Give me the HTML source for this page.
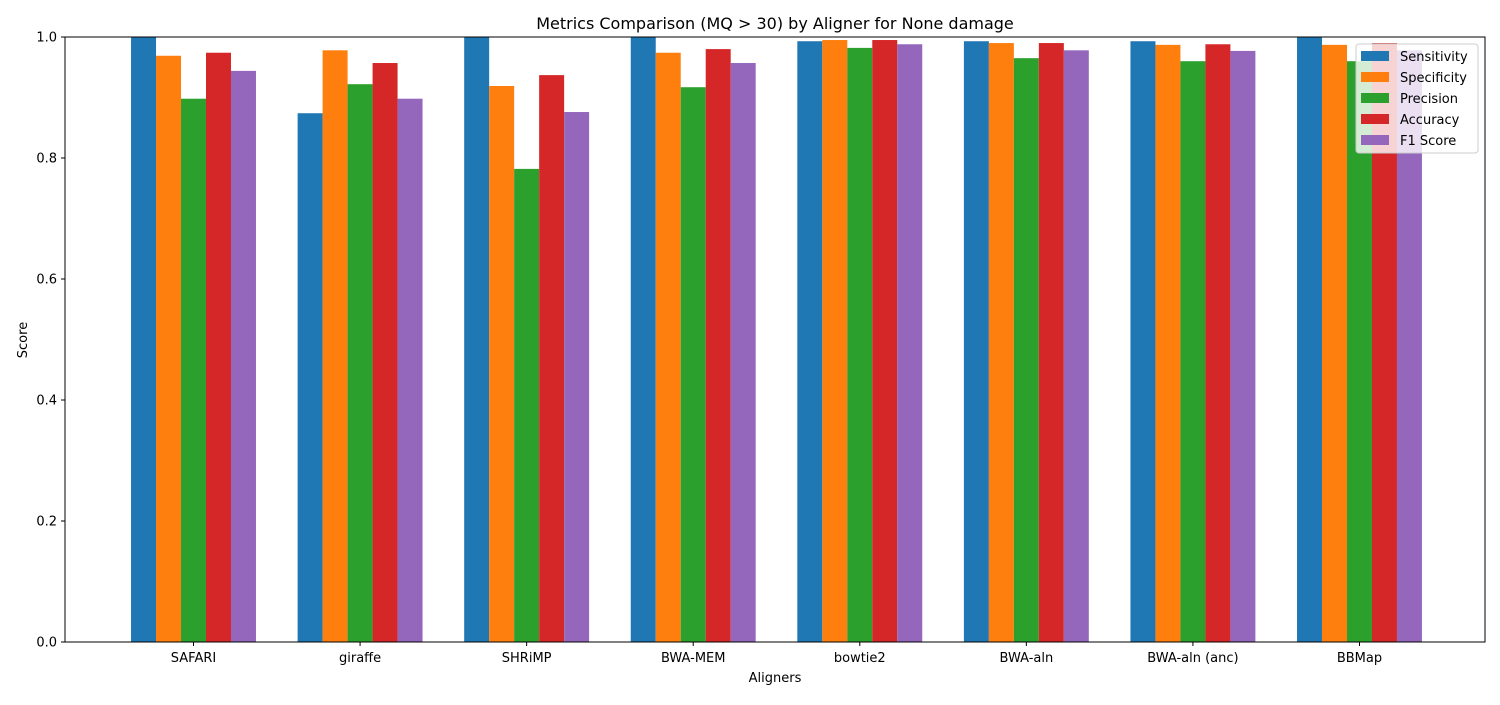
<!DOCTYPE html>
<html><head><meta charset="utf-8"><style>
body{margin:0;background:#fff;}
svg text{font-family:"DejaVu Sans","Liberation Sans",sans-serif;fill:#000;}
</style></head><body>
<svg id="chart" width="1500" height="700" xmlns="http://www.w3.org/2000/svg">
<rect width="1500" height="700" fill="#fff"/>
<g id="bars"></g>
<g id="axes"></g>
<text x="775" y="29" text-anchor="middle" font-size="16">Metrics Comparison (MQ &gt; 30) by Aligner for None damage</text>
<text x="775" y="682" text-anchor="middle" font-size="13">Aligners</text>
<text x="27" y="340" text-anchor="middle" font-size="13" transform="rotate(-90 27 340)">Score</text>
<g id="legend"></g>
</svg>
<script>
const categories=["SAFARI","giraffe","SHRiMP","BWA-MEM","bowtie2","BWA-aln","BWA-aln (anc)","BBMap"];
const seriesNames=["Sensitivity","Specificity","Precision","Accuracy","F1 Score"];
const sensitivity=[1.0,0.874,1.0,1.0,0.993,0.993,0.993,1.0];
const specificity=[0.969,0.978,0.919,0.974,0.995,0.990,0.987,0.987];
const precision=[0.898,0.922,0.782,0.917,0.982,0.965,0.960,0.960];
const accuracy=[0.974,0.957,0.937,0.980,0.995,0.990,0.988,0.990];
const f1score=[0.944,0.898,0.876,0.957,0.988,0.978,0.977,0.978];
const yTicks=[0,0.2,0.4,0.6,0.8,1.0];
const series=[sensitivity,specificity,precision,accuracy,f1score];
const colors=["#1f77b4","#ff7f0e","#2ca02c","#d62728","#9467bd"];
const NS="http://www.w3.org/2000/svg";
const L=65,R=1485,T=37,B=642;
const w=0.15,xmin=-0.7625,xmax=categories.length-1+0.7625;
const xs=v=>L+1.5+(v-xmin)/(xmax-xmin)*(R-L);
const ys=v=>B-v*(B-T);
function mk(tag,attrs,parent){const e=document.createElementNS(NS,tag);for(const k in attrs)e.setAttribute(k,attrs[k]);parent.appendChild(e);return e;}
const bars=document.getElementById('bars');
series.forEach((s,si)=>{s.forEach((v,ci)=>{
 const c=ci+(si-2)*w;
 const r=mk('rect',{x:xs(c-w/2),y:ys(Math.min(v,1)),width:xs(c+w/2)-xs(c-w/2),height:ys(0)-ys(Math.min(v,1)),fill:colors[si]},bars);
 
 
});});
const axes=document.getElementById('axes');
const fr=mk('rect',{x:L,y:T,width:R-L,height:B-T,fill:'none',stroke:'#000','stroke-width':1},axes);


yTicks.forEach(t=>{
 mk('line',{x1:L-4,x2:L,y1:ys(t),y2:ys(t),stroke:'#000'},axes);
 const tx=mk('text',{x:L-8,y:ys(t)+4.5,'text-anchor':'end','font-size':13},axes);
 tx.textContent=t.toFixed(1);
 
 
});
categories.forEach((c,i)=>{
 mk('line',{x1:xs(i),x2:xs(i),y1:B,y2:B+4,stroke:'#000'},axes);
 const tx=mk('text',{x:xs(i),y:B+20,'text-anchor':'middle','font-size':13},axes);
 tx.textContent=c;
 
 
});
const lg=document.getElementById('legend');
mk('rect',{x:1356,y:44,width:122,height:109,rx:3,fill:'#fff','fill-opacity':0.8,stroke:'#ccc'},lg);
seriesNames.forEach((n,i)=>{
 const y=56+i*21;
 const p=mk('rect',{x:1361,y:y-5,width:28,height:10,fill:colors[i]},lg);
 
 
 const t=mk('text',{x:1400,y:y+5,'font-size':13},lg);
 t.textContent=n;
 
 
});
</script>
</body></html>
